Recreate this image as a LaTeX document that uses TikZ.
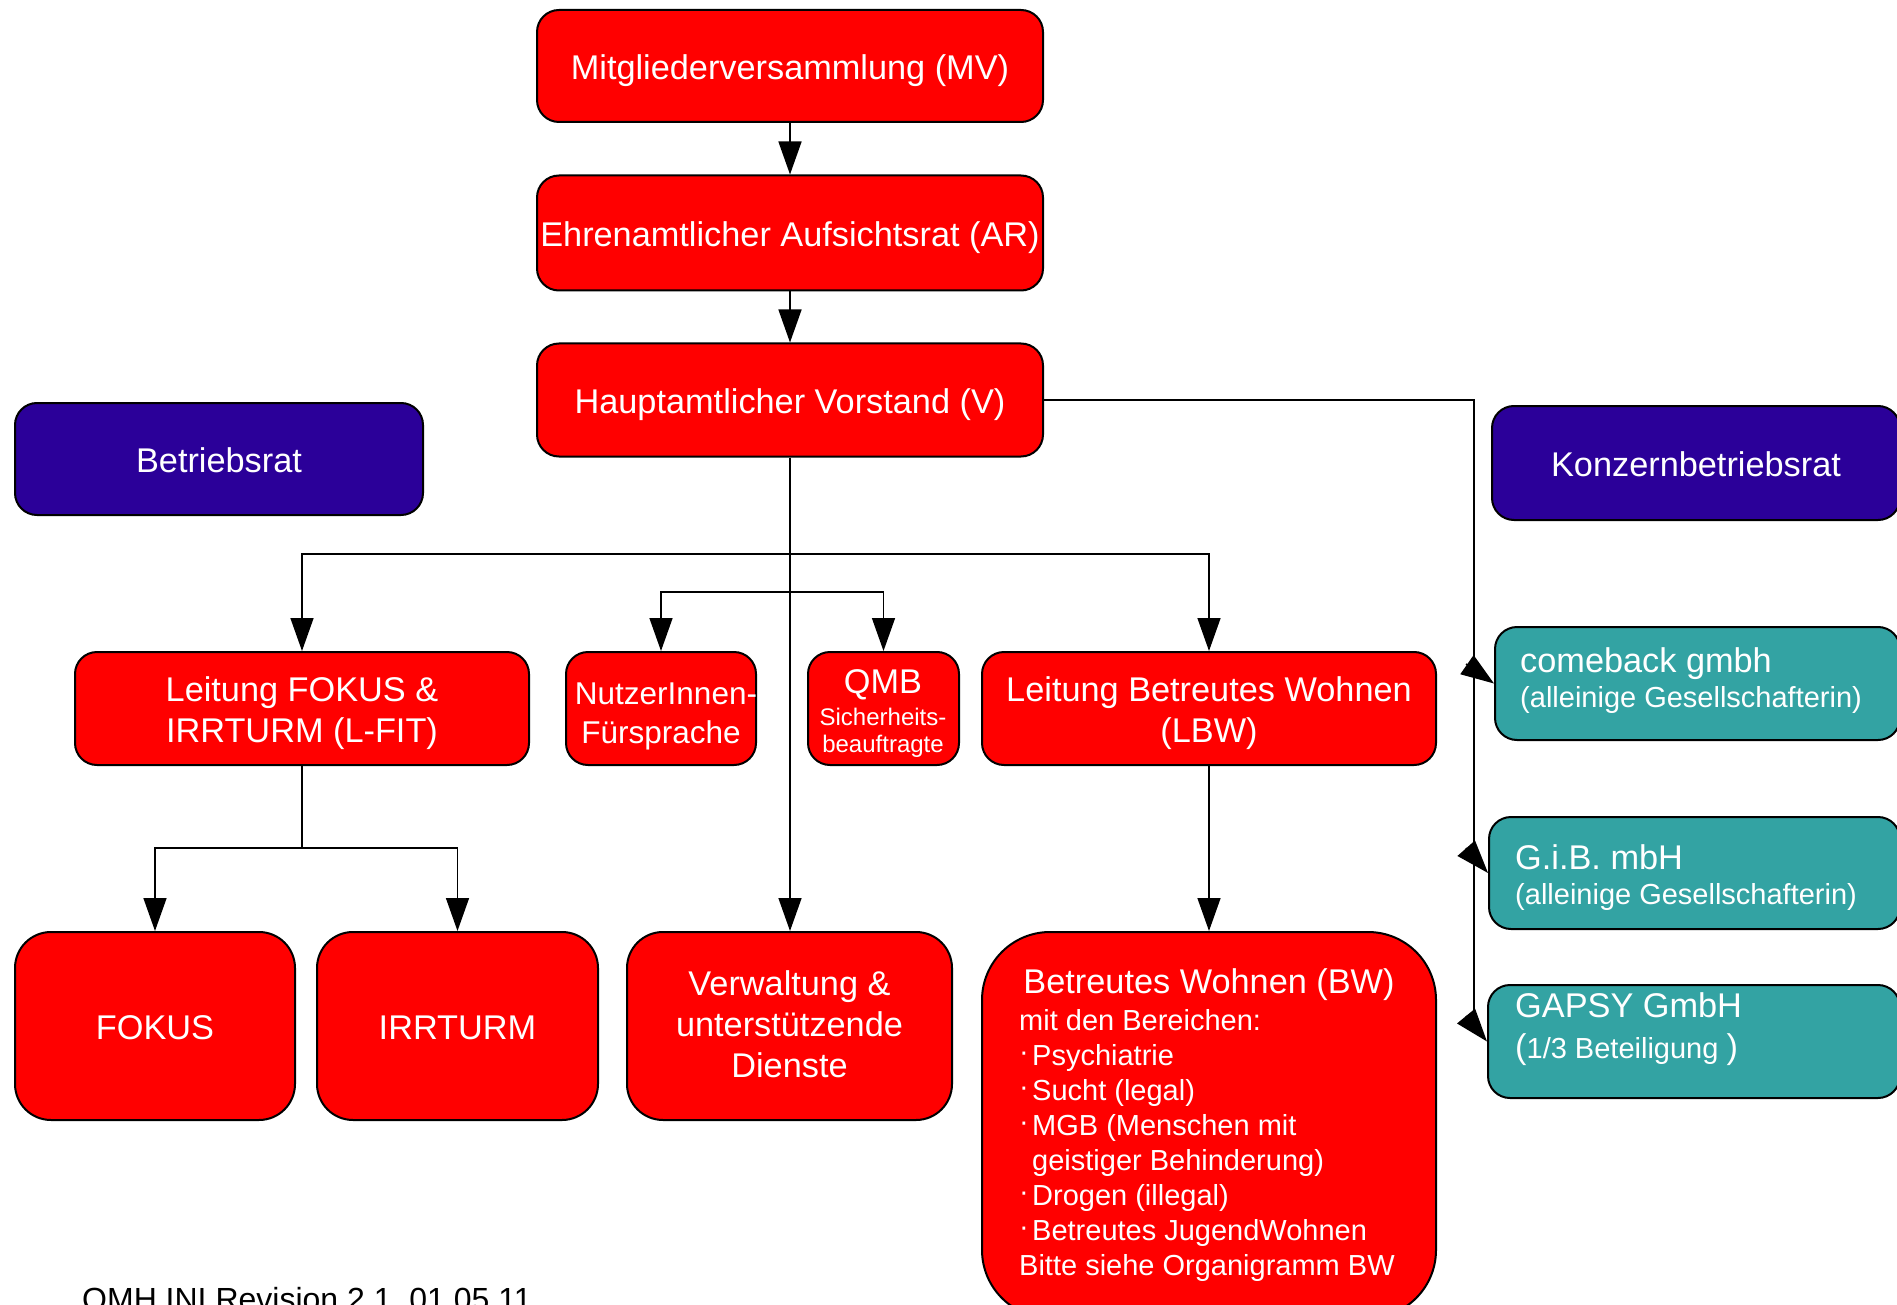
\documentclass[tikz,border=0pt]{standalone}
\usepackage{fontspec}
\setmainfont{Liberation Sans}
\usetikzlibrary{arrows.meta}
\definecolor{orgred}{RGB}{255,0,0}
\definecolor{orgblue}{RGB}{43,0,153}
\definecolor{orgteal}{RGB}{51,163,163}
\newcommand\fsA{\fontsize{34.3}{41}\selectfont}
\newcommand\fsB{\fontsize{29}{35}\selectfont}
\newcommand\fsC{\fontsize{24}{28}\selectfont}
\newcommand\fsD{\fontsize{32}{38}\selectfont}
\newcommand\fsN{\fontsize{31.5}{38}\selectfont}
\newcommand\bwbul{\makebox[13pt][l]{\raisebox{4pt}{·}}}
\newcommand\bxstrut{\rule[-8pt]{0pt}{43pt}}
\newcommand\topstrut{\rule{0pt}{35pt}}
\newcommand\botstrut{\rule[-8pt]{0pt}{8pt}}
\newcommand\deepstrut{\rule[-15pt]{0pt}{15pt}}
\begin{document}
\begin{tikzpicture}[x=1pt,y=-1pt,
 box/.style={draw=black,line width=2pt,rounded corners=22pt,fill=orgred,text=white,align=center,inner sep=0pt,font=\fsA,
   execute at begin node=\bxstrut, execute at end node=\bxstrut},
 bluebox/.style={box,fill=orgblue},
 tealbox/.style={box,fill=orgteal},
 bigbox/.style={box,rounded corners=36pt,minimum height=188pt},
 arr/.style={line width=1.5pt,-{Triangle[length=33pt,width=23pt]}},
 conn/.style={line width=1.5pt},
 txt/.style={text=white,inner sep=0pt}
]
\useasboundingbox (0,0) rectangle (1897,1305);

% boxes
\node[box,minimum width=506pt,minimum height=112pt] (mv) at (790,66) {Mitgliederversammlung (MV)};
\node[box,minimum width=506pt,minimum height=115pt] (ar) at (790,233) {Ehrenamtlicher Aufsichtsrat (AR)};
\node[box,minimum width=506pt,minimum height=113pt] (v) at (790,400) {Hauptamtlicher Vorstand (V)};
\node[bluebox,minimum width=408pt,minimum height=112pt] (br) at (219,459) {Betriebsrat};
\node[bluebox,minimum width=408pt,minimum height=114pt] (kbr) at (1696,463) {Konzernbetriebsrat};
\node[box,minimum width=454pt,minimum height=113pt] (lfit) at (302,708.5) {\topstrut Leitung FOKUS \&\\IRRTURM (L-FIT)\botstrut};
\node[box,minimum width=190pt,minimum height=113pt] (nut) at (661,708.5) {};
\node[box,minimum width=151pt,minimum height=113pt] (qmb) at (883.5,708.5) {};
\node[box,minimum width=454pt,minimum height=113pt] (lbw) at (1209,708.5) {\topstrut Leitung Betreutes Wohnen\\(LBW)\botstrut};
\node[tealbox,minimum width=405pt,minimum height=113pt] (cb) at (1697.5,683.5) {};
\node[tealbox,minimum width=411pt,minimum height=112pt] (gib) at (1694.5,873) {};
\node[tealbox,minimum width=412pt,minimum height=113pt] (gapsy) at (1694,1041.5) {};
\node[bigbox,minimum width=280pt] (fokus) at (155,1026) {FOKUS};
\node[bigbox,minimum width=281pt] (irr) at (457.5,1026) {IRRTURM};
\node[bigbox,minimum width=325pt] (verw) at (789.5,1026) {\topstrut Verwaltung \&\\unterstützende\\Dienste\deepstrut};
\node[box,rounded corners=68pt,minimum width=454pt,minimum height=386pt] (bw) at (1209,1125) {};

% texts inside boxes
\node[txt,font=\fsN,anchor=base] (nut1) at (666,704) {NutzerInnen-};
\node[txt,font=\fsN,anchor=base] (nut2) at (661,743) {Fürsprache};
\node[txt,font=\fsA,anchor=base] (qmb1) at (883,693) {QMB};
\node[txt,font=\fsC,anchor=base] (qmb2) at (883,725) {Sicherheits-};
\node[txt,font=\fsC,anchor=base] (qmb3) at (883,752) {beauftragte};

\node[txt,font=\fsA,anchor=base west] (cb1) at (1520,672) {comeback gmbh};
\node[txt,font=\fsB,anchor=base west] (cb2) at (1520,707) {(alleinige Gesellschafterin)};
\node[txt,font=\fsA,anchor=base west] (gib1) at (1515,869) {G.i.B. mbH};
\node[txt,font=\fsB,anchor=base west] (gib2) at (1515,904) {(alleinige Gesellschafterin)};
\node[txt,font=\fsA,anchor=base west] (gap1) at (1515,1017) {GAPSY GmbH};
\node[txt,font=\fsB,anchor=base west] (gap2) at (1515,1058) {{\fsA(}1/3 Beteiligung {\fsA)}};

\node[txt,font=\fsA,anchor=base] (bw0) at (1209,993) {Betreutes Wohnen (BW)};
\node[txt,font=\fsB,anchor=base west] (bw1) at (1019,1030) {mit den Bereichen:};
\node[txt,font=\fsB,anchor=base west] (bw2) at (1019,1065) {\bwbul Psychiatrie};
\node[txt,font=\fsB,anchor=base west] (bw3) at (1019,1100) {\bwbul Sucht (legal)};
\node[txt,font=\fsB,anchor=base west] (bw4) at (1019,1135) {\bwbul MGB (Menschen mit};
\node[txt,font=\fsB,anchor=base west] (bw5) at (1019,1170) {\hspace*{13pt}geistiger Behinderung)};
\node[txt,font=\fsB,anchor=base west] (bw6) at (1019,1205) {\bwbul Drogen (illegal)};
\node[txt,font=\fsB,anchor=base west] (bw7) at (1019,1240) {\bwbul Betreutes JugendWohnen};
\node[txt,font=\fsB,anchor=base west] (bw8) at (1019,1275) {Bitte siehe Organigramm BW};

\node[anchor=base west,font=\fsD,inner sep=0pt] (foot) at (82,1310) {QMH INI Revision 2.1, 01.05.11};

% connectors
\coordinate (b1) at (790,554);
\coordinate (b2) at (790,592);
\coordinate (b3) at (302,848);
\coordinate (bus) at (1474,1013);
\coordinate (d1) at (1466,664);
\coordinate (d2) at (1466,848);
\coordinate (d3) at (1466,1016);

\draw[arr] (mv) -- (ar);
\draw[arr] (ar) -- (v);
\draw[arr] (v.south) -- (v.south |- verw.north);
\draw[arr] (b1) -| (lfit.north);
\draw[arr] (b1) -| (lbw.north);
\draw[arr] (b2) -| (nut.north);
\draw[arr] (b2) -| (qmb.north);
\draw[conn] (lfit.south) -- (b3);
\draw[arr] (b3) -| (fokus.north);
\draw[arr] (b3) -| (irr.north);
\draw[arr] (lbw) -- (bw);
\draw[conn] (v.east) -| (bus);
\draw[arr] (d1) -- (cb.west);
\draw[arr] (d2) -- (gib.west);
\draw[arr] (d3) -- (gapsy.west);
\end{tikzpicture}
\end{document}
